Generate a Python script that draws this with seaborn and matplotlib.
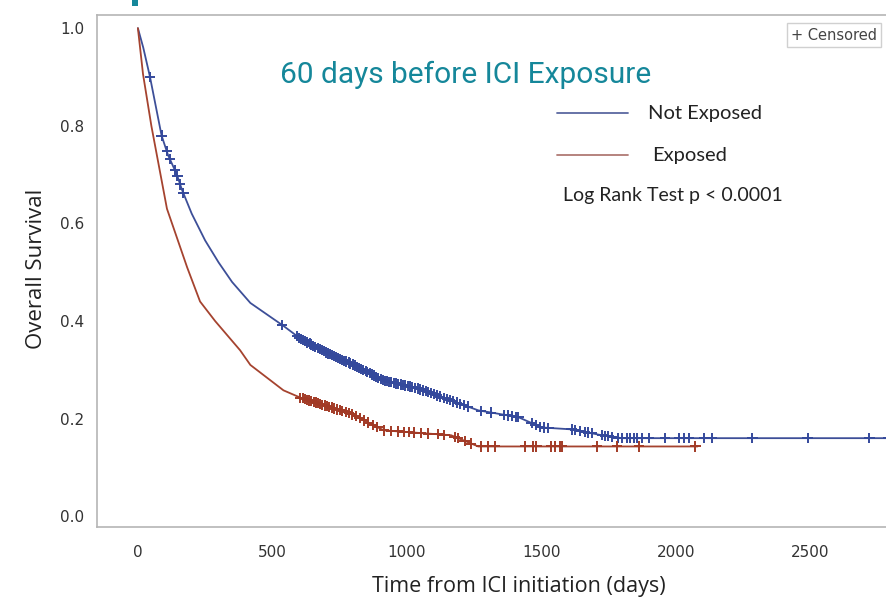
import numpy as np
import pandas as pd
import matplotlib
matplotlib.use("Agg")
import matplotlib.pyplot as plt
from matplotlib.lines import Line2D
from matplotlib.patches import Rectangle
import seaborn as sns

# Kaplan-Meier survival estimates (time in days, survival probability)
not_exposed_days = [0, 20, 45, 88, 112, 145, 163, 200, 250, 300, 350, 418, 541, 604,
                    700, 791, 914, 1040, 1164, 1265, 1414, 1500, 1612, 1724, 1799, 2795]
not_exposed_surv = [1.0, 0.96, 0.90, 0.78, 0.74, 0.70, 0.67, 0.62, 0.565, 0.52, 0.48,
                    0.437, 0.39, 0.364, 0.335, 0.313, 0.278, 0.262, 0.237, 0.217, 0.203,
                    0.182, 0.178, 0.166, 0.16, 0.16]

exposed_days = [0, 19, 50, 108, 183, 231, 287, 380, 418, 541, 604, 791, 914, 1164,
                1265, 2080]
exposed_surv = [1.0, 0.906, 0.80, 0.63, 0.51, 0.44, 0.40, 0.34, 0.31, 0.258, 0.243,
                0.21, 0.176, 0.166, 0.143, 0.143]

# Censoring times
not_exposed_censor = [45, 88, 107, 119, 138, 147, 157, 169, 536,
                      592, 600, 607, 615, 622, 630, 638, 645, 652, 660, 668, 675, 683,
                      690, 698, 706, 713, 721, 728, 736, 744, 752, 760, 767, 775, 783,
                      790, 798, 806, 815, 823, 830, 838, 846, 853, 861, 870, 878, 886,
                      894, 902, 910, 918, 926, 934, 942, 951, 960, 968, 976, 985, 994,
                      1003, 1012, 1020, 1030, 1040, 1050, 1060, 1070, 1080, 1090, 1100,
                      1112, 1124, 1136, 1148, 1160, 1172, 1185, 1198, 1212, 1226, 1276,
                      1313, 1362, 1376, 1390, 1404, 1414, 1463, 1478, 1494, 1510, 1526,
                      1612, 1624, 1643, 1661, 1674, 1687, 1724, 1736, 1749, 1761, 1786,
                      1799, 1817, 1829, 1842, 1854, 1873, 1898, 1960, 2010, 2028, 2047,
                      2103, 2134, 2284, 2489, 2719, 2787]
exposed_censor = [604, 612, 620, 628, 636, 645, 653, 661, 670, 678, 686, 695, 703, 712,
                  720, 730, 740, 750, 760, 772, 784, 796, 810, 824, 840, 856, 872, 890,
                  914, 940, 965, 990, 1009, 1027, 1052, 1077, 1115, 1139, 1177, 1189,
                  1214, 1239, 1276, 1301, 1326, 1438, 1469, 1481, 1537, 1550, 1568,
                  1575, 1705, 1780, 1863, 2072]

groups = ["Not Exposed", "Exposed"]
line_colors = {"Not Exposed": "#3d4f98", "Exposed": "#a5432f"}
mark_colors = {"Not Exposed": "#34499c", "Exposed": "#a23a26"}

curves = pd.concat([
    pd.DataFrame({"days": not_exposed_days, "survival": not_exposed_surv, "group": groups[0]}),
    pd.DataFrame({"days": exposed_days, "survival": exposed_surv, "group": groups[1]}),
], ignore_index=True)

censor = pd.concat([
    pd.DataFrame({"days": not_exposed_censor,
                  "survival": np.interp(not_exposed_censor, not_exposed_days, not_exposed_surv),
                  "group": groups[0]}),
    pd.DataFrame({"days": exposed_censor,
                  "survival": np.interp(exposed_censor, exposed_days, exposed_surv),
                  "group": groups[1]}),
], ignore_index=True)

sns.set_theme(style="white")
plt.rcParams["font.family"] = ["DejaVu Sans"]

fig = plt.figure(figsize=(8.87, 5.97), dpi=100)
ax = fig.add_axes([97 / 887, 1 - 527 / 597, 1.02 - 97 / 887, (527 - 15) / 597])

sns.lineplot(data=curves, x="days", y="survival", hue="group", palette=line_colors,
             linewidth=1.3, legend=False, ax=ax, sort=False, estimator=None)
sns.scatterplot(data=censor, x="days", y="survival", hue="group", palette=mark_colors,
                marker="+", s=55, linewidth=1.4, legend=False, ax=ax, zorder=3)

ax.set_xlim(-152, 2850)
ax.set_ylim(-0.022, 1.027)
ax.set_xticks([0, 500, 1000, 1500, 2000, 2500])
ax.set_yticks([0.0, 0.2, 0.4, 0.6, 0.8, 1.0])
ax.set_yticklabels(["0.0", "0.2", "0.4", "0.6", "0.8", "1.0"])

for side in ["left", "bottom", "top"]:
    ax.spines[side].set_color("#b5b5b5")
    ax.spines[side].set_linewidth(1.2)
ax.spines["right"].set_visible(False)
ax.tick_params(axis="both", which="major", direction="out", length=7, width=1,
               color="#b5b5b5", labelsize=11, labelcolor="#333333")
ax.tick_params(axis="x", pad=6)
ax.tick_params(axis="y", pad=2)
label_font = ["Open Sans", "DejaVu Sans"]
ax.set_xlabel("Time from ICI initiation (days)", fontsize=15.5, color="#222222",
              family=label_font)
ax.xaxis.set_label_coords(0.522, -0.095)
ax.set_ylabel("Overall Survival", fontsize=16, color="#222222",
              family=label_font)
ax.yaxis.set_label_coords(-0.062, 0.505)

# Title inside the plot area
fig.text(466 / 887, 1 - 75 / 597, "60 days before ICI Exposure", ha="center", va="center",
         fontsize=21.5, color="#15879a", family=["Roboto", "DejaVu Sans"])

# Legend drawn as lines + labels
lab_font = ["Lato", "DejaVu Sans"]
fig.add_artist(Line2D([557 / 887, 628 / 887], [1 - 113 / 597] * 2,
                      color="#5a68a0", linewidth=1.3, transform=fig.transFigure))
fig.add_artist(Line2D([557 / 887, 628 / 887], [1 - 155 / 597] * 2,
                      color="#b07a74", linewidth=1.3, transform=fig.transFigure))
fig.text(648 / 887, 1 - 113 / 597, "Not Exposed", ha="left", va="center",
         fontsize=14.5, color="#222222", family=lab_font)
fig.text(652 / 887, 1 - 155 / 597, "Exposed", ha="left", va="center",
         fontsize=14.5, color="#222222", family=lab_font)
fig.text(563 / 887, 1 - 195 / 597, "Log Rank Test p < 0.0001", ha="left", va="center",
         fontsize=14, color="#222222", family=lab_font)

# Censor key box
fig.text(791 / 887, 1 - 35 / 597, "+ Censored", ha="left", va="center", fontsize=10.5,
         color="#444444", family=["DejaVu Sans"],
         bbox=dict(boxstyle="square,pad=0.3", fc="white", ec="#d0d0d0", lw=1))

# Small teal header fragment at the top edge
fig.add_artist(Rectangle((132 / 887, 1 - 6 / 597), 6 / 887, 6 / 597,
                         transform=fig.transFigure, color="#15879a", lw=0))

fig.savefig("out.png", dpi=100, facecolor="white")
